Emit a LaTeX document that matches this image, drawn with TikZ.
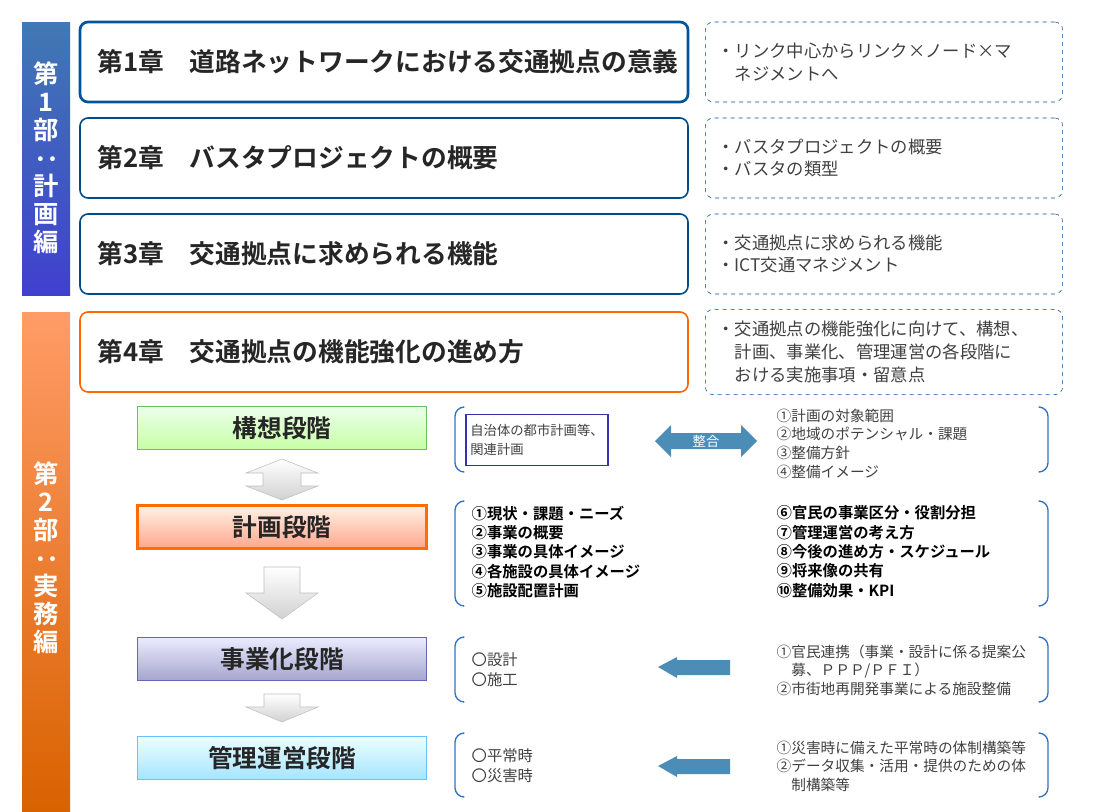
\documentclass[tikz,border=0pt]{standalone}
\usepackage{fontspec}
\setmainfont{Noto Sans CJK JP}[BoldFont={Noto Sans CJK JP Bold}]
\usetikzlibrary{positioning}

\tikzset{
  chap/.style={draw=#1, line width=1.2pt, rounded corners=6pt, fill=white,
    minimum width=456pt, minimum height=60pt, text width=430pt, align=left,
    font=\bfseries\fontsize{19.3}{22}\selectfont, text=black!85},
  note/.style={draw=blue!50!cyan!60!black, dashed, rounded corners=6pt,
    minimum width=268pt, minimum height=60pt, text width=250pt, align=left,
    font=\fontsize{13}{17}\selectfont, text=black!75},
  stage/.style={draw=#1, line width=1pt, minimum width=217pt, minimum height=32pt,
    font=\bfseries\fontsize{18.5}{20}\selectfont, text=black!85},
  part/.style={text=white, font=\bfseries\fontsize{19}{21}\selectfont,
    text width=20pt, align=center},
  list/.style={anchor=north west, align=left, text=black!75,
    font=\fontsize{11}{14}\selectfont},
  blist/.style={list, text=black, font=\bfseries\fontsize{11.5}{14.5}\selectfont},
  grayarrow/.style={draw=black!25, top color=white, bottom color=black!18},
  bluearrow/.style={fill=blue!40!cyan!60!black!70},
  bracket/.style={draw=blue!55!cyan!70!black!80, line width=1pt, rounded corners=7pt},
}

\begin{document}
\begin{tikzpicture}[x=0.75pt,y=-0.75pt]
\useasboundingbox (0,0) rectangle (1093,811);

% parts
\shade[top color=blue!50!cyan!60!black!75, bottom color=blue!75!black!75] (22,22) rectangle (70,295);
\node[part] (p1) at (46,158) {第\\1\\部\\\rotatebox[origin=c]{-90}{：}\\計\\画\\編};
\shade[top color=orange!70!red!60, bottom color=orange!90!red!85!black] (22,312) rectangle (70,811);
\node[part] (p2) at (46,558) {第\\2\\部\\\rotatebox[origin=c]{-90}{：}\\実\\務\\編};

% chapters
\node[chap=blue!45!cyan!60!black, line width=2pt] (c1) at (384,62) {第1章\quad 道路ネットワークにおける交通拠点の意義};
\node[chap=blue!45!cyan!55!black] (c2) at (384,158) {第2章\quad バスタプロジェクトの概要};
\node[chap=blue!45!cyan!55!black] (c3) at (384,254) {第3章\quad 交通拠点に求められる機能};
\node[chap=orange!80!red] (c4) at (384,352) {第4章\quad 交通拠点の機能強化の進め方};

\node[note] (n1) at (884,62) {・リンク中心からリンク×ノード×マ\\\phantom{・}ネジメントへ};
\node[note] (n2) at (884,158) {・バスタプロジェクトの概要\\・バスタの類型};
\node[note] (n3) at (884,254) {・交通拠点に求められる機能\\・ICT交通マネジメント};
\node[note, minimum height=64pt] (n4) at (884,352) {・交通拠点の機能強化に向けて、構想、\\\phantom{・}計画、事業化、管理運営の各段階に\\\phantom{・}おける実施事項・留意点};

% stages
\node[stage=green!60!black!60, top color=green!8, bottom color=green!50!lime!35] (s1) at (282,428) {構想段階};
\node[stage=orange!85!red, line width=2.5pt, top color=orange!10, bottom color=orange!45!red!45] (s2) at (282,527) {計画段階};
\node[stage=blue!60!black!60, top color=blue!8, bottom color=blue!45!black!35] (s3) at (282,659) {事業化段階};
\node[stage=blue!40!cyan!60, top color=cyan!8, bottom color=blue!30!cyan!35] (s4) at (282,758) {管理運営段階};

% gray arrows
\draw[grayarrow] (282,459) -- (318,473) -- (301,473) -- (301,486) -- (318,486) -- (282,500)
  -- (246,486) -- (263,486) -- (263,473) -- (246,473) -- cycle;
\draw[grayarrow] (264,567) -- (300,567) -- (300,593) -- (318,593) -- (282,619) -- (246,593) -- (264,593) -- cycle;
\draw[grayarrow] (264,694) -- (300,694) -- (300,707) -- (318,707) -- (282,722) -- (246,707) -- (264,707) -- cycle;

% brackets
\foreach \t/\b in {407/472, 501/606, 637/702, 733/797}{
  \draw[bracket] (463,\t) -- (455,\t) -- (455,\b) -- (463,\b);
  \draw[bracket] (1040,\t) -- (1048,\t) -- (1048,\b) -- (1040,\b);
}

% row 1
\node[draw=blue!60!black!80, line width=1pt, minimum width=104pt, minimum height=38pt,
  align=left, text=black!75, font=\fontsize{10}{14}\selectfont] (plan) at (537,440)
  {自治体の都市計画等、\\関連計画\hfill\mbox{}};
\fill[bluearrow] (655,441) -- (671,425) -- (671,433) -- (741,433) -- (741,425) -- (757,441)
  -- (741,457) -- (741,449) -- (671,449) -- (671,457) -- cycle;
\node[text=white, font=\fontsize{10}{12}\selectfont] (sg) at (706,441) {整合};
\node[list] (l1) at (772,404) {①計画の対象範囲\\②地域のポテンシャル・課題\\③整備方針\\④整備イメージ};

% row 2
\node[blist] (l2a) at (467,501) {①現状・課題・ニーズ\\②事業の概要\\③事業の具体イメージ\\④各施設の具体イメージ\\⑤施設配置計画};
\node[blist] (l2b) at (772,501) {⑥官民の事業区分・役割分担\\⑦管理運営の考え方\\⑧今後の進め方・スケジュール\\⑨将来像の共有\\⑩整備効果・KPI};

% row 3
\node[list, font=\fontsize{11.5}{15}\selectfont] (l3a) at (467,648) {〇設計\\〇施工};
\fill[bluearrow] (658,667) -- (677,657) -- (677,660) -- (730,660) -- (730,675) -- (677,675) -- (677,678) -- cycle;
\node[list] (l3b) at (772,640) {①官民連携（事業・設計に係る提案公\\\phantom{①}募、ＰＰＰ/ＰＦＩ）\\②市街地再開発事業による施設整備};

% row 4
\node[list, font=\fontsize{11.5}{15}\selectfont] (l4a) at (467,744) {〇平常時\\〇災害時};
\fill[bluearrow] (658,766) -- (677,756) -- (677,759) -- (730,759) -- (730,774) -- (677,774) -- (677,777) -- cycle;
\node[list] (l4b) at (772,736) {①災害時に備えた平常時の体制構築等\\②データ収集・活用・提供のための体\\\phantom{②}制構築等};
\end{tikzpicture}
\end{document}
